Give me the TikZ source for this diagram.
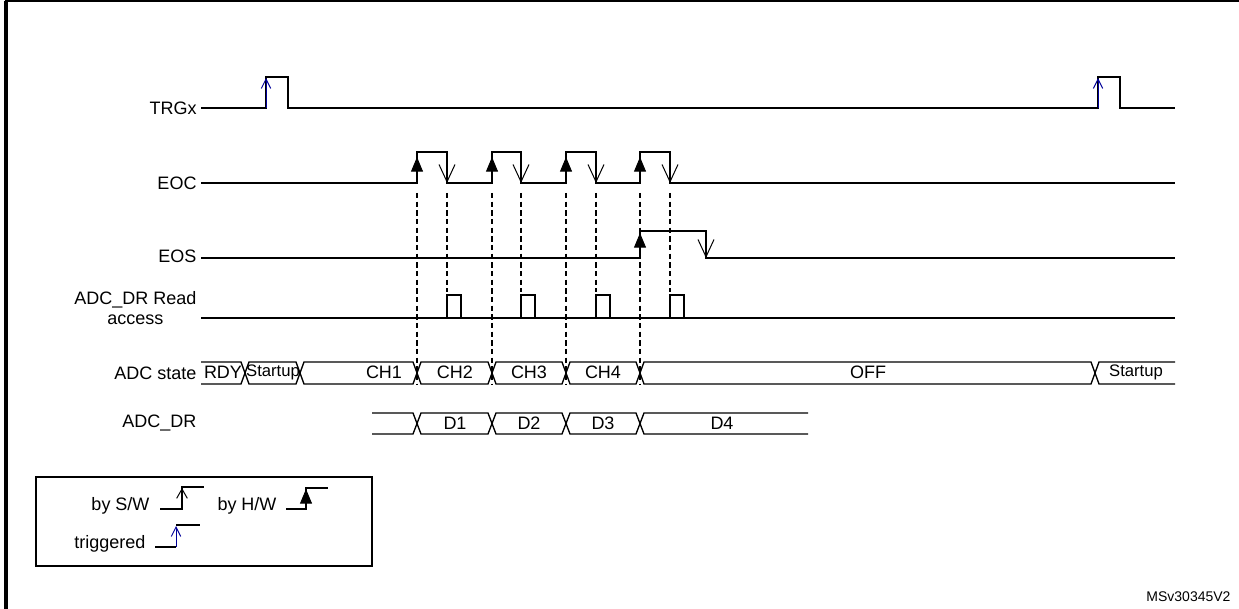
\documentclass[tikz,border=0pt]{standalone}
\usepackage{fontspec}
\setmainfont{Liberation Sans}
\usetikzlibrary{arrows.meta}

\tikzset{every picture/.style={line width=0.75pt}}
\tikzset{
  sig/.style={line width=1pt},
  hwup/.style={-{Triangle[length=11pt,width=9pt]}},
  swdn/.style={-{Straight Barb[length=13pt,width=12pt]}},
  trgup/.style={color=blue!60!black,-{Straight Barb[length=7pt,width=7pt]}},
  guide/.style={dash pattern=on 4pt off 2.5pt,line width=0.9pt},
  lbl/.style={anchor=east,inner sep=0.75pt,font=\fontsize{13.5}{15.5}\selectfont},
  txt/.style={inner sep=0.75pt,font=\fontsize{13.5}{15.5}\selectfont},
  tight/.style={inner sep=0pt,font=\fontsize{12.5}{14}\selectfont}
}
% one bus segment: x1, x2, top, bottom
\newcommand{\busseg}[4]{\draw [sig] (#1,{(#3+#4)/2}) -- (#1+4,#3) -- (#2-4,#3) -- (#2,{(#3+#4)/2}) -- (#2-4,#4) -- (#1+4,#4) -- cycle ;}

\begin{document}
\begin{tikzpicture}[x=0.75pt,y=0.75pt,yscale=-1,xscale=1]
\useasboundingbox (0,0) rectangle (1239,609);

% frame
\draw  [line width=3pt]  (6,609) -- (6,1) ;
\draw  [line width=1.5pt]  (4.5,1) -- (1239,1) ;

% TRGx
\draw  [sig]  (201,108) -- (266,108) -- (266,77) -- (288,77) -- (288,108) -- (1098,108) -- (1098,77) -- (1120,77) -- (1120,108) -- (1175,108) ;
\draw  [trgup]  (266,108) -- (266,78) ;
\draw  [trgup]  (1098,108) -- (1098,78) ;

% EOC
\draw  [sig]  (201,183) -- (417,183) -- (417,152) -- (447,152) -- (447,183) -- (492,183) -- (492,152) -- (521,152) -- (521,183) -- (566,183) -- (566,152) -- (596,152) -- (596,183) -- (640,183) -- (640,152) -- (670,152) -- (670,183) -- (1175,183) ;
\foreach \r/\f in {417/447,492/521,566/596,640/670}{
  \draw  [hwup]  (\r,176) -- (\r,157) ;
  \draw  [swdn]  (\f,160) -- (\f,183) ;
  \draw  [guide]  (\r,193) -- (\r,384) ;
  \draw  [guide]  (\f,193) -- (\f,292) ;
  % ADC_DR read pulse
  \draw  [sig]  (\f,318) -- (\f,295) -- (\f+14,295) -- (\f+14,318) ;
}

% EOS
\draw  [sig]  (201,258) -- (640,258) -- (640,231) -- (706,231) -- (706,258) -- (1175,258) ;
\draw  [hwup]  (640,251) -- (640,233) ;
\draw  [swdn]  (706,236) -- (706,258) ;

% ADC_DR read access
\draw  [sig]  (201,318) -- (1175,318) ;

% ADC state
\draw  [sig]  (201,362) -- (241,362) -- (245,373) -- (241,384) -- (201,384) ;
\busseg{245}{300}{362}{384}
\busseg{300}{417}{362}{384}
\busseg{417}{492}{362}{384}
\busseg{492}{566}{362}{384}
\busseg{566}{640}{362}{384}
\busseg{640}{1095}{362}{384}
\draw  [sig]  (1175,362) -- (1099,362) -- (1095,373) -- (1099,384) -- (1175,384) ;

% ADC_DR
\draw  [sig]  (372,413) -- (413,413) -- (417,423.5) -- (413,434) -- (372,434) ;
\busseg{417}{492}{413}{434}
\busseg{492}{566}{413}{434}
\busseg{566}{640}{413}{434}
\draw  [sig]  (808,413) -- (644,413) -- (640,423.5) -- (644,434) -- (808,434) ;

% legend
\draw  [line width=0.9pt]  (36,477) rectangle (372,566) ;
\draw  [sig]  (160,509) -- (182,509) -- (182,487) -- (204,487) ;
\draw  [-{Straight Barb[length=7pt,width=8pt]}]  (182,502) -- (182,488) ;
\draw  [sig]  (286,509) -- (306,509) -- (306,488) -- (328,488) ;
\draw  [hwup]  (306,502) -- (306,489) ;
\draw  [sig]  (155,547) -- (176,547) ;
\draw  [sig]  (176,525) -- (200,525) ;
\draw  [trgup]  (176,547) -- (176,526) ;

\node (lTRG) at (198,108) [lbl] {TRGx};
\node (lEOC) at (198,183) [lbl] {EOC};
\node (lEOS) at (198,256) [lbl] {EOS};
\node (lRD) at (198,308) [lbl,align=center] {ADC\_DR Read\\access};
\node (lST) at (198,373) [lbl] {ADC state};
\node (lDR) at (198,423) [lbl] {ADC\_DR};
\node (sRDY) at (223,372) [txt] {RDY};
\node (sSU1) at (273,372) [tight] {Startup};
\node (sCH1) at (384,372) [txt] {CH1};
\node (sCH2) at (455,372) [txt] {CH2};
\node (sCH3) at (529,372) [txt] {CH3};
\node (sCH4) at (603,372) [txt] {CH4};
\node (sOFF) at (868,372) [txt] {OFF};
\node (sSU2) at (1136,372) [tight] {Startup};
\node (dD1) at (455,423) [txt] {D1};
\node (dD2) at (529,423) [txt] {D2};
\node (dD3) at (603,423) [txt] {D3};
\node (dD4) at (722,423) [txt] {D4};
\node (gSW) at (151,506) [lbl] {by S/W};
\node (gHW) at (278,506) [lbl] {by H/W};
\node (gTR) at (147,544) [lbl] {triggered};
\node (ref) at (1232,597) [anchor=east,inner sep=0.75pt,font=\fontsize{10.5}{12}\selectfont] {MSv30345V2};

\end{tikzpicture}
\end{document}
